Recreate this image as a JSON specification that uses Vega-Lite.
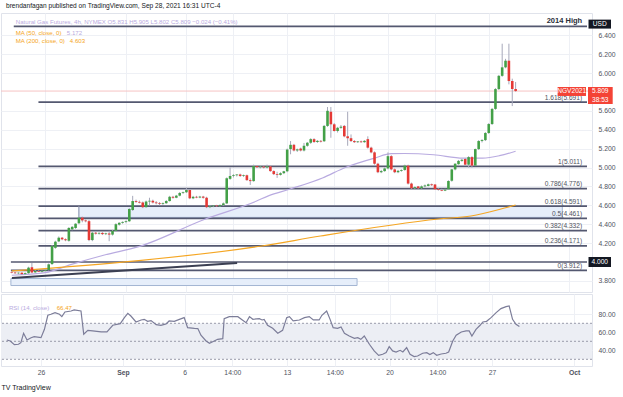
{
"$schema":"https://vega.github.io/schema/vega-lite/v6.json",
"background":"white",
"padding":{"left":0,"right":0,"top":2,"bottom":0},
"bounds":"flush",
"title":{"text":"brendanfagan published on TradingView.com, Sep 28, 2021 16:31 UTC-4","anchor":"start","fontSize":6.6,"fontWeight":"normal","color":"#131722","dx":6,"offset":3,"font":"Liberation Sans"},
"spacing":2,
"config":{"font":"Liberation Sans","view":{"stroke":"#e0e3eb","strokeWidth":1},"axis":{"labelOverlap":false}},
"datasets":{
"candles":[
{"i":0,"o":3.895,"h":3.9,"l":3.88,"c":3.888},
{"i":1,"o":3.888,"h":3.895,"l":3.875,"c":3.88},
{"i":2,"o":3.88,"h":3.89,"l":3.87,"c":3.887},
{"i":3,"o":3.887,"h":3.89,"l":3.865,"c":3.872},
{"i":4,"o":3.872,"h":3.89,"l":3.868,"c":3.882},
{"i":5,"o":3.882,"h":3.95,"l":3.875,"c":3.94},
{"i":6,"o":3.945,"h":3.99,"l":3.88,"c":3.89},
{"i":7,"o":3.89,"h":3.915,"l":3.885,"c":3.905},
{"i":8,"o":3.905,"h":3.912,"l":3.895,"c":3.897},
{"i":9,"o":3.897,"h":3.91,"l":3.89,"c":3.906},
{"i":10,"o":3.906,"h":3.918,"l":3.9,"c":3.914},
{"i":11,"o":3.915,"h":3.985,"l":3.91,"c":3.975},
{"i":12,"o":3.978,"h":4.18,"l":3.97,"c":4.17},
{"i":13,"o":4.15,"h":4.225,"l":4.14,"c":4.215},
{"i":14,"o":4.218,"h":4.27,"l":4.21,"c":4.257},
{"i":15,"o":4.257,"h":4.265,"l":4.23,"c":4.24},
{"i":16,"o":4.24,"h":4.25,"l":4.22,"c":4.231},
{"i":17,"o":4.225,"h":4.37,"l":4.215,"c":4.36},
{"i":18,"o":4.345,"h":4.38,"l":4.335,"c":4.372},
{"i":19,"o":4.36,"h":4.41,"l":4.35,"c":4.405},
{"i":20,"o":4.41,"h":4.59,"l":4.4,"c":4.47},
{"i":21,"o":4.47,"h":4.48,"l":4.42,"c":4.44},
{"i":22,"o":4.44,"h":4.45,"l":4.42,"c":4.431},
{"i":23,"o":4.432,"h":4.445,"l":4.22,"c":4.232},
{"i":24,"o":4.232,"h":4.32,"l":4.22,"c":4.31},
{"i":25,"o":4.31,"h":4.32,"l":4.29,"c":4.3},
{"i":26,"o":4.3,"h":4.315,"l":4.29,"c":4.308},
{"i":27,"o":4.308,"h":4.315,"l":4.285,"c":4.295},
{"i":28,"o":4.295,"h":4.31,"l":4.285,"c":4.303},
{"i":29,"o":4.302,"h":4.33,"l":4.22,"c":4.29},
{"i":30,"o":4.29,"h":4.34,"l":4.28,"c":4.33},
{"i":31,"o":4.33,"h":4.41,"l":4.32,"c":4.4},
{"i":32,"o":4.395,"h":4.42,"l":4.385,"c":4.415},
{"i":33,"o":4.415,"h":4.43,"l":4.405,"c":4.424},
{"i":34,"o":4.424,"h":4.44,"l":4.41,"c":4.432},
{"i":35,"o":4.432,"h":4.57,"l":4.425,"c":4.56},
{"i":36,"o":4.55,"h":4.7,"l":4.54,"c":4.645},
{"i":37,"o":4.645,"h":4.66,"l":4.625,"c":4.636},
{"i":38,"o":4.636,"h":4.65,"l":4.62,"c":4.628},
{"i":39,"o":4.63,"h":4.64,"l":4.57,"c":4.58},
{"i":40,"o":4.58,"h":4.65,"l":4.575,"c":4.64},
{"i":41,"o":4.64,"h":4.68,"l":4.6,"c":4.648},
{"i":42,"o":4.648,"h":4.66,"l":4.62,"c":4.63},
{"i":43,"o":4.63,"h":4.645,"l":4.61,"c":4.622},
{"i":44,"o":4.622,"h":4.635,"l":4.6,"c":4.614},
{"i":45,"o":4.614,"h":4.63,"l":4.605,"c":4.622},
{"i":46,"o":4.622,"h":4.655,"l":4.615,"c":4.645},
{"i":47,"o":4.645,"h":4.7,"l":4.64,"c":4.69},
{"i":48,"o":4.69,"h":4.7,"l":4.67,"c":4.68},
{"i":49,"o":4.68,"h":4.71,"l":4.675,"c":4.702},
{"i":50,"o":4.702,"h":4.74,"l":4.695,"c":4.73},
{"i":51,"o":4.73,"h":4.745,"l":4.72,"c":4.738},
{"i":52,"o":4.738,"h":4.785,"l":4.73,"c":4.762},
{"i":53,"o":4.762,"h":4.77,"l":4.665,"c":4.674},
{"i":54,"o":4.674,"h":4.7,"l":4.665,"c":4.69},
{"i":55,"o":4.69,"h":4.7,"l":4.675,"c":4.682},
{"i":56,"o":4.682,"h":4.7,"l":4.675,"c":4.692},
{"i":57,"o":4.692,"h":4.7,"l":4.67,"c":4.68},
{"i":58,"o":4.68,"h":4.69,"l":4.57,"c":4.58},
{"i":59,"o":4.58,"h":4.6,"l":4.57,"c":4.59},
{"i":60,"o":4.59,"h":4.6,"l":4.58,"c":4.598},
{"i":61,"o":4.598,"h":4.605,"l":4.585,"c":4.59},
{"i":62,"o":4.59,"h":4.61,"l":4.585,"c":4.602},
{"i":63,"o":4.602,"h":4.63,"l":4.595,"c":4.62},
{"i":64,"o":4.62,"h":4.895,"l":4.615,"c":4.886},
{"i":65,"o":4.88,"h":5.0,"l":4.87,"c":4.91},
{"i":66,"o":4.91,"h":4.93,"l":4.895,"c":4.918},
{"i":67,"o":4.918,"h":4.93,"l":4.905,"c":4.926},
{"i":68,"o":4.926,"h":4.935,"l":4.9,"c":4.91},
{"i":69,"o":4.91,"h":4.925,"l":4.9,"c":4.918},
{"i":70,"o":4.918,"h":4.925,"l":4.86,"c":4.866},
{"i":71,"o":4.866,"h":4.885,"l":4.815,"c":4.856},
{"i":72,"o":4.856,"h":5.03,"l":4.85,"c":5.016},
{"i":73,"o":5.016,"h":5.025,"l":4.995,"c":5.002},
{"i":74,"o":5.002,"h":5.015,"l":4.99,"c":5.01},
{"i":75,"o":5.01,"h":5.015,"l":4.99,"c":5.0},
{"i":76,"o":5.0,"h":5.03,"l":4.99,"c":5.012},
{"i":77,"o":5.012,"h":5.02,"l":4.955,"c":4.962},
{"i":78,"o":4.962,"h":4.97,"l":4.92,"c":4.93},
{"i":79,"o":4.93,"h":4.955,"l":4.89,"c":4.922},
{"i":80,"o":4.922,"h":4.95,"l":4.915,"c":4.94},
{"i":81,"o":4.94,"h":4.965,"l":4.93,"c":4.96},
{"i":82,"o":4.96,"h":5.2,"l":4.95,"c":5.19},
{"i":83,"o":5.195,"h":5.28,"l":5.14,"c":5.24},
{"i":84,"o":5.24,"h":5.25,"l":5.17,"c":5.18},
{"i":85,"o":5.18,"h":5.2,"l":5.165,"c":5.192},
{"i":86,"o":5.2,"h":5.21,"l":5.17,"c":5.18},
{"i":87,"o":5.18,"h":5.26,"l":5.17,"c":5.23},
{"i":88,"o":5.23,"h":5.27,"l":5.22,"c":5.262},
{"i":89,"o":5.262,"h":5.31,"l":5.25,"c":5.3},
{"i":90,"o":5.3,"h":5.31,"l":5.26,"c":5.27},
{"i":91,"o":5.27,"h":5.29,"l":5.26,"c":5.282},
{"i":92,"o":5.282,"h":5.29,"l":5.265,"c":5.274},
{"i":93,"o":5.278,"h":5.45,"l":5.27,"c":5.44},
{"i":94,"o":5.44,"h":5.64,"l":5.43,"c":5.6},
{"i":95,"o":5.59,"h":5.64,"l":5.315,"c":5.457},
{"i":96,"o":5.457,"h":5.47,"l":5.38,"c":5.386},
{"i":97,"o":5.386,"h":5.43,"l":5.37,"c":5.42},
{"i":98,"o":5.42,"h":5.45,"l":5.41,"c":5.432},
{"i":99,"o":5.44,"h":5.45,"l":5.32,"c":5.33},
{"i":100,"o":5.33,"h":5.59,"l":5.23,"c":5.31},
{"i":101,"o":5.31,"h":5.35,"l":5.27,"c":5.28},
{"i":102,"o":5.28,"h":5.29,"l":5.26,"c":5.268},
{"i":103,"o":5.268,"h":5.28,"l":5.26,"c":5.276},
{"i":104,"o":5.276,"h":5.285,"l":5.26,"c":5.268},
{"i":105,"o":5.268,"h":5.29,"l":5.262,"c":5.282},
{"i":106,"o":5.3,"h":5.33,"l":5.2,"c":5.21},
{"i":107,"o":5.21,"h":5.22,"l":5.15,"c":5.16},
{"i":108,"o":5.16,"h":5.17,"l":5.03,"c":5.04},
{"i":109,"o":5.04,"h":5.05,"l":4.94,"c":4.95},
{"i":110,"o":4.95,"h":4.975,"l":4.94,"c":4.962},
{"i":111,"o":4.962,"h":5.0,"l":4.955,"c":4.99},
{"i":112,"o":4.99,"h":5.16,"l":4.98,"c":5.12},
{"i":113,"o":5.12,"h":5.13,"l":4.97,"c":4.98},
{"i":114,"o":4.98,"h":4.99,"l":4.94,"c":4.95},
{"i":115,"o":4.95,"h":4.975,"l":4.94,"c":4.965},
{"i":116,"o":4.965,"h":4.98,"l":4.955,"c":4.974},
{"i":117,"o":4.974,"h":5.03,"l":4.965,"c":5.02},
{"i":118,"o":5.02,"h":5.03,"l":4.82,"c":4.83},
{"i":119,"o":4.83,"h":4.84,"l":4.77,"c":4.78},
{"i":120,"o":4.78,"h":4.8,"l":4.77,"c":4.792},
{"i":121,"o":4.8,"h":4.805,"l":4.77,"c":4.78},
{"i":122,"o":4.78,"h":4.81,"l":4.775,"c":4.8},
{"i":123,"o":4.8,"h":4.82,"l":4.79,"c":4.81},
{"i":124,"o":4.805,"h":4.83,"l":4.8,"c":4.822},
{"i":125,"o":4.822,"h":4.83,"l":4.805,"c":4.813},
{"i":126,"o":4.82,"h":4.825,"l":4.765,"c":4.77},
{"i":127,"o":4.77,"h":4.78,"l":4.755,"c":4.762},
{"i":128,"o":4.762,"h":4.775,"l":4.75,"c":4.755},
{"i":129,"o":4.755,"h":4.775,"l":4.75,"c":4.766},
{"i":130,"o":4.77,"h":4.865,"l":4.765,"c":4.857},
{"i":131,"o":4.86,"h":4.985,"l":4.85,"c":4.98},
{"i":132,"o":4.98,"h":5.045,"l":4.97,"c":5.04},
{"i":133,"o":5.035,"h":5.08,"l":5.03,"c":5.07},
{"i":134,"o":5.07,"h":5.09,"l":5.06,"c":5.082},
{"i":135,"o":5.09,"h":5.1,"l":5.02,"c":5.03},
{"i":136,"o":5.03,"h":5.12,"l":5.0,"c":5.11},
{"i":137,"o":5.11,"h":5.12,"l":5.0,"c":5.02},
{"i":138,"o":5.02,"h":5.2,"l":5.015,"c":5.195},
{"i":139,"o":5.195,"h":5.29,"l":5.185,"c":5.28},
{"i":140,"o":5.28,"h":5.3,"l":5.265,"c":5.29},
{"i":141,"o":5.29,"h":5.375,"l":5.28,"c":5.365},
{"i":142,"o":5.365,"h":5.47,"l":5.355,"c":5.46},
{"i":143,"o":5.46,"h":5.63,"l":5.45,"c":5.62},
{"i":144,"o":5.62,"h":5.84,"l":5.61,"c":5.83},
{"i":145,"o":5.83,"h":5.98,"l":5.82,"c":5.97},
{"i":146,"o":5.97,"h":6.31,"l":5.96,"c":6.06},
{"i":147,"o":6.06,"h":6.15,"l":6.05,"c":6.13},
{"i":148,"o":6.13,"h":6.31,"l":5.88,"c":5.915},
{"i":149,"o":5.915,"h":5.94,"l":5.65,"c":5.831},
{"i":150,"o":5.831,"h":5.905,"l":5.802,"c":5.809}
],
"ma":[
{"s":"MA50","t":0,"p":3.86},{"s":"MA50","t":10,"p":3.887},{"s":"MA50","t":17.8,"p":3.975},{"s":"MA50","t":27.6,"p":4.074},{"s":"MA50","t":37.8,"p":4.162},{"s":"MA50","t":57.3,"p":4.45},{"s":"MA50","t":72.9,"p":4.645},{"s":"MA50","t":76.4,"p":4.7},{"s":"MA50","t":82.7,"p":4.77},{"s":"MA50","t":92.5,"p":4.889},{"s":"MA50","t":99.3,"p":5.0},{"s":"MA50","t":108,"p":5.1},{"s":"MA50","t":113,"p":5.146},{"s":"MA50","t":116.8,"p":5.148},{"s":"MA50","t":125.6,"p":5.135},{"s":"MA50","t":134.4,"p":5.1},{"s":"MA50","t":140.2,"p":5.1},{"s":"MA50","t":145.2,"p":5.125},{"s":"MA50","t":150,"p":5.172},
{"s":"MA200","t":0,"p":3.905},{"s":"MA200","t":37.8,"p":4.015},{"s":"MA200","t":74.4,"p":4.169},{"s":"MA200","t":91.9,"p":4.275},{"s":"MA200","t":127.1,"p":4.455},{"s":"MA200","t":136.7,"p":4.487},{"s":"MA200","t":146.7,"p":4.571},{"s":"MA200","t":150,"p":4.603}
],
"levels":[
{"t0":0.6,"t1":171.25,"p":6.493,"label":""},
{"t0":7.95,"t1":171.25,"p":5.691,"label":"1.618(5.691)"},
{"t0":7.95,"t1":171.25,"p":5.011,"label":"1(5.011)"},
{"t0":7.95,"t1":171.25,"p":4.776,"label":"0.786(4.776)"},
{"t0":7.95,"t1":171.25,"p":4.591,"label":"0.618(4.591)"},
{"t0":7.95,"t1":171.25,"p":4.461,"label":"0.5(4.461)"},
{"t0":7.95,"t1":171.25,"p":4.332,"label":"0.382(4.332)"},
{"t0":7.95,"t1":171.25,"p":4.171,"label":"0.236(4.171)"},
{"t0":-0.25,"t1":171.25,"p":4.0,"label":""},
{"t0":-0.25,"t1":171.25,"p":3.912,"label":"0(3.912)"}
],
"rsi":[
{"t":0,"v":51.5},{"t":1,"v":50.4},{"t":2.2,"v":46.3},{"t":3.4,"v":46.7},{"t":4.1,"v":48.5},{"t":4.9,"v":58.9},{"t":5.9,"v":51.5},{"t":7.1,"v":54},{"t":8,"v":55.2},{"t":10,"v":54},{"t":11,"v":63.3},{"t":12,"v":78.9},{"t":12.9,"v":80},{"t":14.1,"v":81.9},{"t":15.4,"v":80},{"t":16.1,"v":77.4},{"t":17,"v":82.6},{"t":18.8,"v":83.7},{"t":19.7,"v":84.8},{"t":21.7,"v":83.7},{"t":22.5,"v":57.8},{"t":23.7,"v":62.2},{"t":25.1,"v":61.5},{"t":27.6,"v":60.4},{"t":29.3,"v":60.4},{"t":31,"v":67.8},{"t":33.2,"v":69.6},{"t":34.4,"v":76.3},{"t":35.4,"v":81.1},{"t":36.3,"v":78.1},{"t":37.8,"v":71.5},{"t":39.3,"v":73.7},{"t":40.2,"v":74.4},{"t":41.2,"v":72.2},{"t":42.2,"v":73},{"t":43.7,"v":68.5},{"t":45.1,"v":67.8},{"t":46.6,"v":69.3},{"t":47.5,"v":72.6},{"t":49,"v":72.2},{"t":50.5,"v":74.4},{"t":51.9,"v":76.3},{"t":52.9,"v":65.2},{"t":54.9,"v":64.4},{"t":55.9,"v":64.1},{"t":56.8,"v":56.7},{"t":58.3,"v":50.4},{"t":59.3,"v":47.8},{"t":60.7,"v":50.4},{"t":61.7,"v":52.2},{"t":63.2,"v":53},{"t":63.6,"v":75.2},{"t":65.1,"v":77.4},{"t":67.6,"v":77.4},{"t":70,"v":70.7},{"t":71,"v":77.4},{"t":72,"v":74.4},{"t":73.9,"v":75.2},{"t":74.7,"v":73.7},{"t":75.3,"v":74.4},{"t":76.3,"v":67.8},{"t":77.8,"v":64.4},{"t":79.3,"v":58.9},{"t":80.7,"v":62.2},{"t":81.9,"v":76.3},{"t":82.7,"v":77.4},{"t":83.8,"v":72.6},{"t":85.6,"v":73.7},{"t":87.1,"v":76.3},{"t":88.5,"v":77.4},{"t":89.7,"v":73.7},{"t":91.4,"v":73.7},{"t":92.2,"v":78.9},{"t":93.6,"v":83.7},{"t":94.6,"v":74.4},{"t":95.5,"v":65.2},{"t":96.8,"v":64.4},{"t":97.8,"v":65.9},{"t":98.8,"v":58.9},{"t":100.2,"v":55.9},{"t":101.7,"v":53.3},{"t":102.7,"v":54},{"t":103.6,"v":52.2},{"t":104.6,"v":55.9},{"t":106.1,"v":46.7},{"t":107.5,"v":39.3},{"t":108.8,"v":34.4},{"t":110,"v":35.6},{"t":111,"v":37.4},{"t":111.9,"v":44.1},{"t":112.9,"v":39.3},{"t":113.9,"v":38.1},{"t":115.1,"v":40},{"t":115.9,"v":38.1},{"t":117,"v":43},{"t":118,"v":35.6},{"t":119.2,"v":33},{"t":120.2,"v":33.7},{"t":121.7,"v":36.7},{"t":122.9,"v":37.4},{"t":123.8,"v":35.2},{"t":124.8,"v":37.4},{"t":125.8,"v":34.4},{"t":127.1,"v":35.9},{"t":128.5,"v":36.7},{"t":129.3,"v":38.1},{"t":130.5,"v":50.4},{"t":131.5,"v":56.7},{"t":133,"v":60.4},{"t":134.4,"v":61.5},{"t":135.3,"v":61.5},{"t":136.1,"v":55.9},{"t":137.3,"v":63.3},{"t":138.5,"v":67.8},{"t":139.3,"v":71.5},{"t":140.4,"v":72.2},{"t":141.7,"v":76.3},{"t":143.2,"v":81.9},{"t":144.6,"v":86.3},{"t":146.1,"v":88.5},{"t":147,"v":89.3},{"t":148,"v":74.4},{"t":149,"v":68.9},{"t":150,"v":66.47}
]
},
"vconcat":[
{
"width":591,"height":279,
"resolve":{"axis":{"x":"independent","y":"independent"}},
"layer":[
{"data":{"values":[{"t0":-0.25,"t1":102.8,"p0":3.751,"p1":3.825},{"t0":19.95,"t1":163.9,"p0":4.472,"p1":4.588}]},
 "mark":{"type":"rect","fill":"#e6eefa","stroke":"#a3b5d3","strokeWidth":1},
 "encoding":{
  "x":{"field":"t0","type":"quantitative","title":null,"scale":{"domain":[-1.71,171.25],"nice":false,"zero":false},
       "axis":{"values":[10,34,52,66,82,96,112,126,142,166],"labels":false,"ticks":false,"domain":false,"grid":true,"gridColor":"#eef0f5","title":null}},
  "x2":{"field":"t1"},
  "y":{"field":"p0","type":"quantitative","title":null,"scale":{"domain":[3.6825,6.635],"nice":false,"zero":false},
       "axis":{"orient":"right","values":[3.8,4.2,4.4,4.6,4.8,5.0,5.2,5.4,5.6,6.0,6.2,6.4],"format":".3f","labelFontSize":6.8,"labelColor":"#50535e","labelOverlap":false,"ticks":false,"domain":false,"labelPadding":6,"grid":true,"gridColor":"#eef0f5","title":null}},
  "y2":{"field":"p1"}}},
{"data":{"values":[{"p":5.809}]},"mark":{"type":"rule","color":"#f6c4c4","strokeWidth":1},
 "encoding":{"y":{"field":"p","type":"quantitative","axis":null}}},
{"data":{"name":"levels"},"mark":{"type":"rule","color":"#545870","strokeWidth":1.7},
 "encoding":{"x":{"field":"t0","type":"quantitative","axis":null},"x2":{"field":"t1"},"y":{"field":"p","type":"quantitative","axis":null}}},
{"data":{"values":[{"t0":0.05,"p0":3.831,"t1":67.1,"p1":3.99}]},"mark":{"type":"rule","color":"#3b3f52","strokeWidth":2},
 "encoding":{"x":{"field":"t0","type":"quantitative","axis":null},"x2":{"field":"t1"},"y":{"field":"p0","type":"quantitative","axis":null},"y2":{"field":"p1"}}},
{"data":{"name":"ma"},"mark":{"type":"line","strokeWidth":1.2,"interpolate":"monotone"},
 "encoding":{"x":{"field":"t","type":"quantitative","axis":null},"y":{"field":"p","type":"quantitative","axis":null},
  "color":{"field":"s","type":"nominal","scale":{"domain":["MA50","MA200"],"range":["#b9abe0","#f5a623"]},"legend":null}}},
{"data":{"name":"candles"},"mark":{"type":"rule","color":"#a6a8ba","strokeWidth":1},
 "encoding":{"x":{"field":"i","type":"quantitative","axis":null},"y":{"field":"l","type":"quantitative","axis":null},"y2":{"field":"h"}}},
{"data":{"name":"candles"},"mark":{"type":"bar","width":2.6},
 "encoding":{"x":{"field":"i","type":"quantitative","axis":null},"y":{"field":"o","type":"quantitative","axis":null},"y2":{"field":"c"},
  "color":{"condition":{"test":"datum.c >= datum.o","value":"#43a047"},"value":"#e53935"}}},
{"data":{"name":"levels"},"transform":[{"filter":"datum.label != ''"}],
 "mark":{"type":"text","align":"right","baseline":"bottom","dy":-1.5,"fontSize":6.6,"color":"#50535e"},
 "encoding":{"x":{"datum":169.8,"type":"quantitative","axis":null},"y":{"field":"p","type":"quantitative","axis":null},"text":{"field":"label"}}},
{"data":{"values":[{"p":6.55,"text":"2014 High"}]},
 "mark":{"type":"text","align":"right","baseline":"middle","fontSize":7.5,"fontWeight":"bold","color":"#2a2e39"},
 "encoding":{"x":{"datum":169.8,"type":"quantitative","axis":null},"y":{"field":"p","type":"quantitative","axis":null},"text":{"field":"text"}}},
{"data":{"values":[
  {"t":1.2,"p":6.535,"text":"Natural Gas Futures, 4h, NYMEX O5.831 H5.905 L5.802 C5.809 −0.024 (−0.41%)","k":"head"},
  {"t":1.2,"p":6.426,"text":"MA (50, close, 0)","k":"ma"},
  {"t":16.4,"p":6.426,"text":"5.172","k":"ma50"},
  {"t":1.2,"p":6.339,"text":"MA (200, close, 0)","k":"ma"},
  {"t":17.3,"p":6.339,"text":"4.603","k":"ma200"}]},
 "mark":{"type":"text","align":"left","baseline":"middle","fontSize":6.1},
 "encoding":{"x":{"field":"t","type":"quantitative","axis":null},"y":{"field":"p","type":"quantitative","axis":null},"text":{"field":"text"},
  "color":{"field":"k","type":"nominal","scale":{"domain":["head","ma","ma50","ma200"],"range":["#2a2e39","#50535e","#b39ddb","#f5a623"]},"legend":null}}},
{"data":{"values":[{"t0":171.7,"t1":178.4,"p0":6.47,"p1":6.565},{"t0":171.7,"t1":178.4,"p0":3.947,"p1":4.053}]},
 "mark":{"type":"rect","fill":"#131722"},
 "encoding":{"x":{"field":"t0","type":"quantitative","axis":null},"x2":{"field":"t1"},"y":{"field":"p0","type":"quantitative","axis":null},"y2":{"field":"p1"}}},
{"data":{"values":[{"t0":162.5,"t1":170.95,"p0":5.757,"p1":5.852},{"t0":171.55,"t1":178.9,"p0":5.672,"p1":5.852}]},
 "mark":{"type":"rect","fill":"#f44336"},
 "encoding":{"x":{"field":"t0","type":"quantitative","axis":null},"x2":{"field":"t1"},"y":{"field":"p0","type":"quantitative","axis":null},"y2":{"field":"p1"}}},
{"data":{"values":[{"t":175.05,"p":6.517,"text":"USD"},{"t":175.05,"p":4.0,"text":"4.000"},{"t":166.7,"p":5.805,"text":"NGV2021"},{"t":175.2,"p":5.809,"text":"5.809"},{"t":175.2,"p":5.715,"text":"38:53"}]},
 "mark":{"type":"text","align":"center","baseline":"middle","fontSize":6.6,"color":"white"},
 "encoding":{"x":{"field":"t","type":"quantitative","axis":null},"y":{"field":"p","type":"quantitative","axis":null},"text":{"field":"text"}}}
]
},
{
"width":591,"height":72,
"resolve":{"axis":{"x":"independent","y":"independent"}},
"layer":[
{"data":{"values":[{"lo":30,"hi":70}]},"mark":{"type":"rect","fill":"#eceef4"},
 "encoding":{"y":{"field":"lo","type":"quantitative","title":null,"scale":{"domain":[22.56,102.56],"nice":false,"zero":false},
   "axis":{"orient":"right","values":[40,60,80],"format":".2f","labelFontSize":6.8,"labelColor":"#50535e","labelOverlap":false,"ticks":false,"domain":false,"labelPadding":6,"grid":true,"gridColor":"#eef0f5","title":null}},
  "y2":{"field":"hi"}}},
{"data":{"values":[{"v":70},{"v":50},{"v":30}]},"mark":{"type":"rule","color":"#9a9caa","strokeDash":[2,2],"strokeWidth":1},
 "encoding":{"y":{"field":"v","type":"quantitative","axis":null}}},
{"data":{"name":"rsi"},"mark":{"type":"line","color":"#7c7d99","strokeWidth":1.2},
 "encoding":{"x":{"field":"t","type":"quantitative","scale":{"domain":[-1.71,171.25],"nice":false,"zero":false},
   "axis":{"values":[10,34,52,66,82,96,112,126,142,166],
     "labelExpr":"datum.value==10?'26':datum.value==34?'Sep':datum.value==52?'6':datum.value==66?'14:00':datum.value==82?'13':datum.value==96?'14:00':datum.value==112?'20':datum.value==126?'14:00':datum.value==142?'27':'Oct'",
     "labelFontSize":6.8,"labelColor":"#50535e","labelOverlap":false,"labelFontWeight":{"condition":{"test":"datum.value==34 || datum.value==166","value":"bold"},"value":"normal"},
     "ticks":false,"domain":false,"labelPadding":3,"grid":true,"gridColor":"#eef0f5",
     "title":"TV TradingView","titleAnchor":"start","titleAlign":"left","titlePadding":8,"titleFontSize":7,"titleFontWeight":"normal","titleColor":"#131722"}},
  "y":{"field":"v","type":"quantitative","axis":null}}},
{"data":{"values":[{"t":0.6,"v":87.3,"text":"RSI (14, close)","k":"a"},{"t":14.6,"v":87.3,"text":"66.47","k":"b"}]},
 "mark":{"type":"text","align":"left","baseline":"middle","fontSize":6.1},
 "encoding":{"x":{"field":"t","type":"quantitative","axis":null},"y":{"field":"v","type":"quantitative","axis":null},"text":{"field":"text"},
  "color":{"field":"k","type":"nominal","scale":{"domain":["a","b"],"range":["#50535e","#7c7d99"]},"legend":null}}}
]
}
]
}
